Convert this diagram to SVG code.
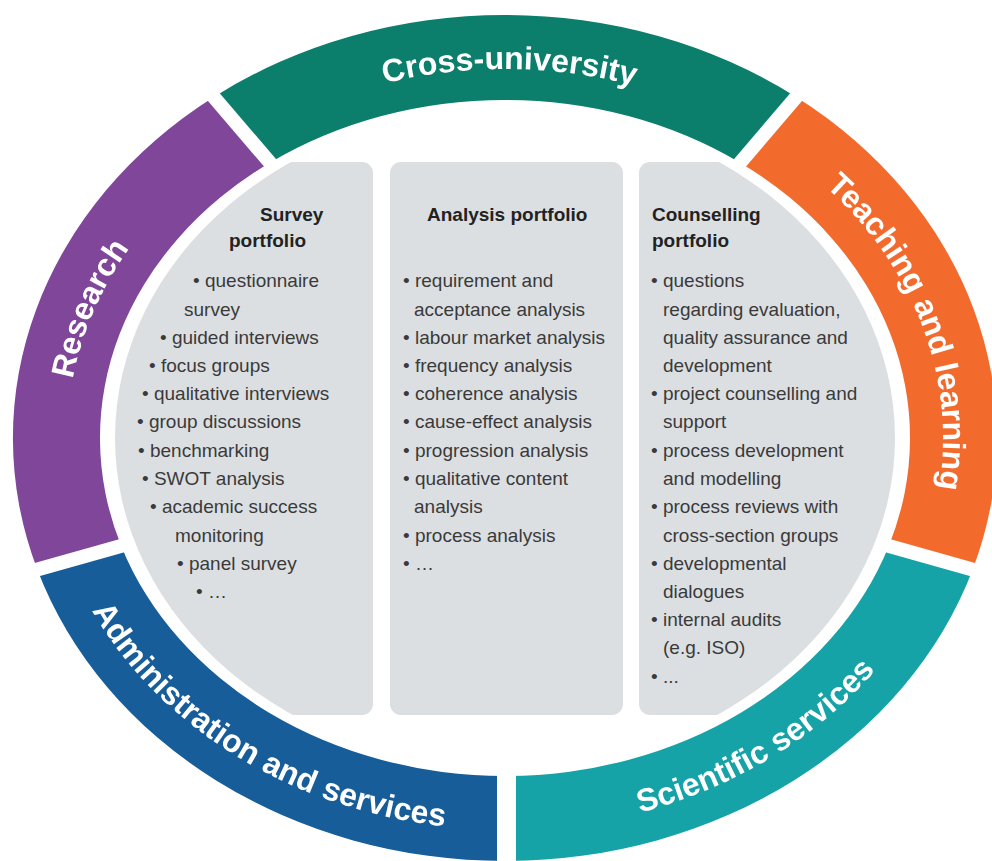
<svg xmlns="http://www.w3.org/2000/svg" xmlns:xlink="http://www.w3.org/1999/xlink" width="992" height="861" viewBox="0 0 992 861">
  <style>
    .seg-label { font-family: "Liberation Sans", Arial, sans-serif; font-weight: bold; font-size: 32px; fill: #ffffff; }
    .panel { fill: #dcdfe2; }
    .title { font-family: "Liberation Sans", Arial, sans-serif; font-weight: bold; font-size: 19px; fill: #222222; }
    .item { font-family: "Liberation Sans", Arial, sans-serif; font-size: 19px; fill: #3a3a3a; }
  </style>
  <defs>
    <!-- white gaps that split the ring into five segments -->
    <mask id="gaps" maskUnits="userSpaceOnUse" x="0" y="0" width="992" height="861">
      <rect x="0" y="0" width="992" height="861" fill="#fff"/>
      <g stroke="#000" stroke-width="14">
        <line x1="505" y1="438" x2="115.4" y2="-18.2"/>
        <line x1="505" y1="438" x2="894.6" y2="-18.2"/>
        <line x1="505" y1="438" x2="1082.6" y2="600.4"/>
        <line x1="505" y1="438" x2="-72.6" y2="600.4"/>
        <line x1="506.5" y1="438" x2="506.5" y2="1038" stroke-width="19"/>
      </g>
    </mask>
    <!-- grey inner disc -->
    <clipPath id="disc">
      <ellipse cx="505" cy="438" rx="390" ry="330"/>
    </clipPath>
    <!-- baseline for labels with tops pointing outward (clockwise, starts at bottom) -->
    <path id="outerLabels" d="M 505 807 A 438 369 0 0 1 505 69 A 438 369 0 0 1 505 807"/>
    <!-- baseline for labels with tops pointing inward (counter-clockwise through the bottom) -->
    <path id="lowerLabels" d="M 45 438 A 460 392 0 0 0 965 438"/>
  </defs>

  <rect x="0" y="0" width="992" height="861" fill="#ffffff"/>

  <!-- outer ring -->
  <g id="ring" mask="url(#gaps)">
    <g id="research">
      <path fill="#7f4699" d="M 37.3 569.5 A 492 423 0 0 1 213.8 97 L 269.9 162.7 A 405 338 0 0 0 121.2 545.9 Z"/>
      <text class="seg-label" text-anchor="middle"><textPath xlink:href="#outerLabels" href="#outerLabels" startOffset="766">Research</textPath></text>
    </g>
    <g id="cross-university">
      <path fill="#0b7f6b" d="M 213.8 97 A 492 423 0 0 1 796.2 97 L 740.1 162.7 A 405 338 0 0 0 269.9 162.7 Z"/>
      <text class="seg-label" text-anchor="middle"><textPath xlink:href="#outerLabels" href="#outerLabels" startOffset="1274">Cross-university</textPath></text>
    </g>
    <g id="teaching-and-learning">
      <path fill="#f26b2d" d="M 796.2 97 A 492 423 0 0 1 972.7 569.5 L 888.8 545.9 A 405 338 0 0 0 740.1 162.7 Z"/>
      <text class="seg-label" text-anchor="middle"><textPath xlink:href="#outerLabels" href="#outerLabels" startOffset="1787">Teaching and learning</textPath></text>
    </g>
    <g id="scientific-services">
      <path fill="#16a3a7" d="M 972.7 569.5 A 492 423 0 0 1 505 861 L 505 776 A 405 338 0 0 0 888.8 545.9 Z"/>
      <text class="seg-label" text-anchor="middle"><textPath xlink:href="#lowerLabels" href="#lowerLabels" startOffset="946">Scientific services</textPath></text>
    </g>
    <g id="administration-and-services">
      <path fill="#175d99" d="M 505 861 A 492 423 0 0 1 37.3 569.5 L 121.2 545.9 A 405 338 0 0 0 505 776 Z"/>
      <text class="seg-label" text-anchor="middle"><textPath xlink:href="#lowerLabels" href="#lowerLabels" startOffset="395">Administration and services</textPath></text>
    </g>
  </g>

  <!-- survey portfolio -->
  <g id="survey-portfolio">
    <rect class="panel" x="80" y="162" width="293" height="553" rx="11" clip-path="url(#disc)"/>
    <text class="title" x="260" y="221">Survey</text>
    <text class="title" x="229" y="246.5">portfolio</text>
    <text class="item" x="193" y="287">• questionnaire</text>
    <text class="item" x="184" y="315.5">survey</text>
    <text class="item" x="160" y="343.5">• guided interviews</text>
    <text class="item" x="149" y="372">• focus groups</text>
    <text class="item" x="142" y="400">• qualitative interviews</text>
    <text class="item" x="137" y="428">• group discussions</text>
    <text class="item" x="138" y="456.5">• benchmarking</text>
    <text class="item" x="142" y="485">• SWOT analysis</text>
    <text class="item" x="150" y="513">• academic success</text>
    <text class="item" x="175" y="541.5">monitoring</text>
    <text class="item" x="177" y="569.5">• panel survey</text>
    <text class="item" x="196" y="598">• …</text>
  </g>

  <!-- analysis portfolio -->
  <g id="analysis-portfolio">
    <rect class="panel" x="390" y="162" width="233" height="553" rx="11"/>
    <text class="title" x="427" y="221">Analysis portfolio</text>
    <text class="item" x="403" y="287">• requirement and</text>
    <text class="item" x="414" y="315.5">acceptance analysis</text>
    <text class="item" x="403" y="343.5">• labour market analysis</text>
    <text class="item" x="403" y="372">• frequency analysis</text>
    <text class="item" x="403" y="400">• coherence analysis</text>
    <text class="item" x="403" y="428">• cause-effect analysis</text>
    <text class="item" x="403" y="456.5">• progression analysis</text>
    <text class="item" x="403" y="485">• qualitative content</text>
    <text class="item" x="414" y="513">analysis</text>
    <text class="item" x="403" y="541.5">• process analysis</text>
    <text class="item" x="403" y="569.5">• …</text>
  </g>

  <!-- counselling portfolio -->
  <g id="counselling-portfolio">
    <rect class="panel" x="639" y="162" width="300" height="553" rx="11" clip-path="url(#disc)"/>
    <text class="title" x="652" y="221">Counselling</text>
    <text class="title" x="652" y="246.5">portfolio</text>
    <text class="item" x="651" y="287">• questions</text>
    <text class="item" x="663" y="315.5">regarding evaluation,</text>
    <text class="item" x="663" y="343.5">quality assurance and</text>
    <text class="item" x="663" y="372">development</text>
    <text class="item" x="651" y="400">• project counselling and</text>
    <text class="item" x="663" y="428">support</text>
    <text class="item" x="651" y="456.5">• process development</text>
    <text class="item" x="663" y="485">and modelling</text>
    <text class="item" x="651" y="513">• process reviews with</text>
    <text class="item" x="663" y="541.5">cross-section groups</text>
    <text class="item" x="651" y="569.5">• developmental</text>
    <text class="item" x="663" y="598">dialogues</text>
    <text class="item" x="651" y="626">• internal audits</text>
    <text class="item" x="663" y="654">(e.g. ISO)</text>
    <text class="item" x="651" y="683">• ...</text>
  </g>
</svg>
